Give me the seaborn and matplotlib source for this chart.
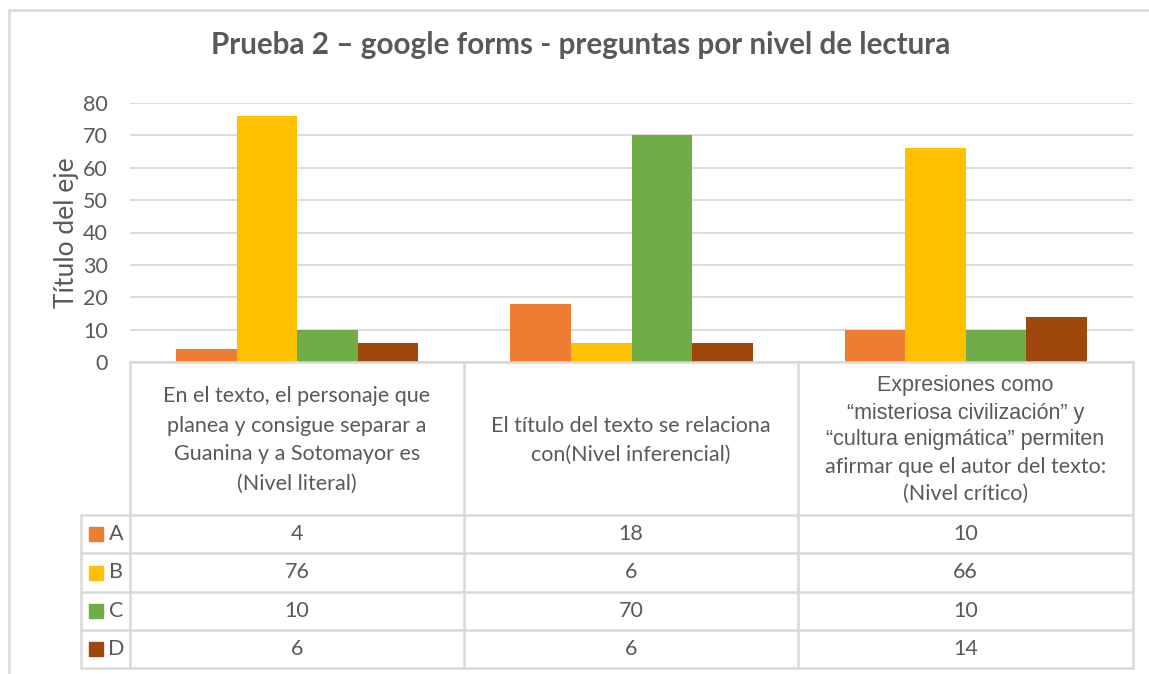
import pandas as pd
import seaborn as sns
import matplotlib.pyplot as plt
from matplotlib.lines import Line2D
from matplotlib.patches import Rectangle

# ---------------------------------------------------------
# data
# ---------------------------------------------------------
categories = ['Literal', 'Inferencial', 'Crítico']
cat_lines = [
    ['En el texto, el personaje que', 'planea y consigue separar a',
     'Guanina y a Sotomayor es', '(Nivel literal)'],
    ['El título del texto se relaciona', 'con(Nivel inferencial)'],
    ['Expresiones como', '\u201cmisteriosa civilización\u201d y',
     '\u201ccultura enigmática\u201d permiten',
     'afirmar que el autor del texto:', '(Nivel crítico)'],
]
series = ['A', 'B', 'C', 'D']
val_a = [4, 18, 10]
val_b = [76, 6, 66]
val_c = [10, 70, 10]
val_d = [6, 6, 14]
colors = ['#ED7D31', '#FFC000', '#70AD47', '#9E480E']

vals = {'A': val_a, 'B': val_b, 'C': val_c, 'D': val_d}
df = pd.DataFrame([(c, s, vals[s][i]) for i, c in enumerate(categories) for s in series],
                  columns=['cat', 'serie', 'valor'])

# ---------------------------------------------------------
# figure
# ---------------------------------------------------------
sns.set_style('white')
plt.rcParams['font.family'] = ['Lato', 'DejaVu Sans']
GRAY = '#595959'
LINE = '#D9D9D9'
W, H = 1149, 674

def fx(x): return x / W
def fy(y): return 1 - y / H

fig = plt.figure(figsize=(W / 100, H / 100), dpi=100)
ax = fig.add_axes([fx(130), fy(362), fx(1133) - fx(130), fy(103) - fy(362)])

sns.barplot(data=df, x='cat', y='valor', hue='serie', palette=colors, width=0.725,
            gap=0, saturation=1, edgecolor='none', legend=False, ax=ax, zorder=3)

ax.set_xlim(-0.5, 2.5)
ax.set_ylim(0, 80)
ax.set_yticks(range(0, 81, 10))
ax.set_xticks([])
ax.set_xlabel('')
ax.set_ylabel('Título del eje', fontsize=19, color=GRAY, labelpad=3)
ax.tick_params(axis='y', length=0, labelsize=15.5, labelcolor=GRAY, pad=16)
ax.grid(axis='y', color=LINE, linewidth=1.3, zorder=0)
sns.despine(ax=ax, left=True, bottom=True)

fig.text(fx(581), fy(45), 'Prueba 2 \u2013 google forms - preguntas por nivel de lectura',
         ha='center', va='center', fontsize=21.3, fontweight='bold', color=GRAY)

# ---------------------------------------------------------
# data table below the chart
# ---------------------------------------------------------
def hline(y, x0, x1, lw=1.8):
    fig.add_artist(Line2D([fx(x0), fx(x1)], [fy(y), fy(y)], color=LINE, lw=lw))

def vline(x, y0, y1, lw=1.8):
    fig.add_artist(Line2D([fx(x), fx(x)], [fy(y0), fy(y1)], color=LINE, lw=lw))

col_x = [130, 464, 798, 1133]
row_y = [515, 553, 592, 630, 668]
hline(362, 130, 1133)
for y in row_y:
    hline(y, 81, 1133)
for x in col_x:
    vline(x, 362, 668)
vline(81, 515, 668)

# outer chart border
hline(10, 9, W)
vline(9, 10, H)

# category header text
line_hs = [29, 29, 27]
for i, lines in enumerate(cat_lines):
    cx = (col_x[i] + col_x[i + 1]) / 2
    cy = 440
    n = len(lines)
    for j, t in enumerate(lines):
        y = cy + (j - (n - 1) / 2) * line_hs[i]
        if i == 2 and j < 3:
            fam, fs = ['Liberation Sans', 'DejaVu Sans'], 15.5
        else:
            fam, fs = ['Lato', 'DejaVu Sans'], 15.5
        fig.text(fx(cx), fy(y), t, ha='center', va='center', fontsize=fs,
                 color=GRAY, family=fam)

# rows with legend keys and values
for r, s in enumerate(series):
    yc = (row_y[r] + row_y[r + 1]) / 2
    fig.add_artist(Rectangle((fx(89), fy(yc + 7)), fx(14), 14 / H, color=colors[r]))
    fig.text(fx(116), fy(yc), s, ha='center', va='center', fontsize=15.5, color=GRAY)
    for i in range(len(categories)):
        cx = (col_x[i] + col_x[i + 1]) / 2
        fig.text(fx(cx), fy(yc), str(vals[s][i]), ha='center', va='center',
                 fontsize=15.5, color=GRAY)

plt.savefig('out.png', dpi=100)
